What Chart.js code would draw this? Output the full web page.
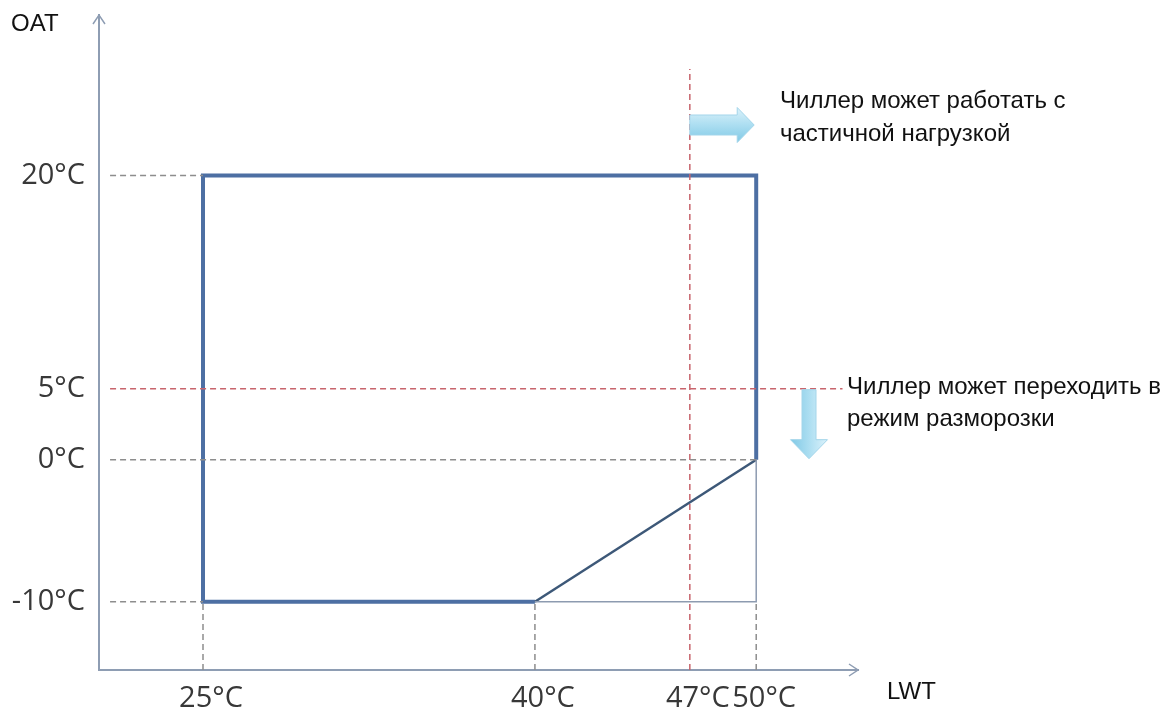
<!DOCTYPE html>
<html>
<head>
<meta charset="utf-8">
<script src="https://cdn.jsdelivr.net/npm/chart.js@4"></script>
<style>
  html, body { margin: 0; padding: 0; background: #fff; }
  #wrap { width: 1165px; height: 713px; position: relative; }
</style>
</head>
<body>
<div id="wrap"><canvas id="envelopeChart"></canvas></div>
<script>
// values
const lwtTicks = [25, 40, 47, 50];
const oatTicks = [-10, 0, 5, 20];
const boxX = [50, 50, 25, 25, 40];
const boxY = [0, 20, 20, -10, -10];
const slopeX = [40, 50];
const slopeY = [-10, 0];
const edgeX = [40, 50, 50];
const edgeY = [-10, -10, 0];
const partLoadLwt = 47;
const defrostOat = 5;

const xMin = 20.3, xMax = 54.6;
const yMin = -14.8, yMax = 31.3;
const guideStart = 20.8;

function pts(xs, ys) {
    return xs.map((x, i) => ({ x: x, y: ys[i] }));
}

const grey = '#8d8d8d';
const red = '#c8646c';
const axisColor = '#8e9db3';
const textFont = '24px "Liberation Sans", Arial, sans-serif';

function dashed(data, color) {
    return {
        data: data,
        borderColor: color,
        borderWidth: 1.5,
        borderDash: [6, 4],
        pointRadius: 0,
        showLine: true
    };
}

const datasets = [
    // grey guide lines from the axes to the corners
    dashed([{ x: guideStart, y: 20 }, { x: 25, y: 20 }], grey),
    dashed([{ x: guideStart, y: 0 }, { x: 50, y: 0 }], grey),
    dashed([{ x: guideStart, y: -10 }, { x: 25, y: -10 }], grey),
    dashed([{ x: 25, y: yMin }, { x: 25, y: -10 }], grey),
    dashed([{ x: 40, y: yMin }, { x: 40, y: -10 }], grey),
    dashed([{ x: 50, y: yMin }, { x: 50, y: -10 }], grey),
    // red limits
    dashed([{ x: guideStart, y: defrostOat }, { x: 53.9, y: defrostOat }], red),
    dashed([{ x: partLoadLwt, y: yMin }, { x: partLoadLwt, y: 27.5 }], red),
    {
        data: pts(edgeX, edgeY),
        borderColor: '#8d9bb0',
        borderWidth: 1.5,
        pointRadius: 0,
        showLine: true
    },
    {
        data: pts(slopeX, slopeY),
        borderColor: '#3d5878',
        borderWidth: 2.5,
        pointRadius: 0,
        showLine: true
    },
    {
        data: pts(boxX, boxY),
        borderColor: '#4d6fa3',
        borderWidth: 4,
        pointRadius: 0,
        showLine: true
    }
];

function blockArrow(ctx, x0, y0, len, shaft, head, headLen, dir) {
    ctx.save();
    ctx.translate(x0, y0);
    if (dir === 'down') ctx.rotate(Math.PI / 2);
    const g = ctx.createLinearGradient(0, -head / 2, 0, head / 2);
    g.addColorStop(0, '#dcf2fb');
    g.addColorStop(0.5, '#acdef1');
    g.addColorStop(1, '#80c9e6');
    ctx.beginPath();
    ctx.moveTo(0, -shaft / 2);
    ctx.lineTo(len - headLen, -shaft / 2);
    ctx.lineTo(len - headLen, -head / 2);
    ctx.lineTo(len, 0);
    ctx.lineTo(len - headLen, head / 2);
    ctx.lineTo(len - headLen, shaft / 2);
    ctx.lineTo(0, shaft / 2);
    ctx.closePath();
    ctx.fillStyle = g;
    ctx.fill();
    ctx.strokeStyle = '#a3d5ea';
    ctx.lineWidth = 1;
    ctx.stroke();
    ctx.restore();
}

const decorations = {
    id: 'decorations',
    afterDraw(chart) {
        const ctx = chart.ctx;
        const a = chart.chartArea;
        const xs = chart.scales.x;
        const ys = chart.scales.y;

        // axis arrow heads
        ctx.save();
        ctx.strokeStyle = axisColor;
        ctx.lineWidth = 1.5;
        ctx.beginPath();
        ctx.moveTo(a.left - 6, a.top + 9);
        ctx.lineTo(a.left, a.top);
        ctx.lineTo(a.left + 6, a.top + 9);
        ctx.moveTo(a.right - 9, a.bottom - 6);
        ctx.lineTo(a.right, a.bottom);
        ctx.lineTo(a.right - 9, a.bottom + 6);
        ctx.stroke();

        // axis names
        ctx.fillStyle = '#111';
        ctx.font = textFont;
        ctx.textBaseline = 'middle';
        ctx.textAlign = 'left';
        ctx.fillText('OAT', 11, 24);
        ctx.fillText('LWT', 887, 692);

        // notes
        const yRed = ys.getPixelForValue(defrostOat);
        ctx.fillText('Чиллер может работать с', 780, 101);
        ctx.fillText('частичной нагрузкой', 780, 134);
        ctx.fillText('Чиллер может переходить в', 847, yRed - 1);
        ctx.fillText('режим разморозки', 847, yRed + 31);
        ctx.restore();

        // block arrows
        const xl = xs.getPixelForValue(partLoadLwt);
        const xr = xs.getPixelForValue(50);
        blockArrow(ctx, xl, 125, xr - xl - 2, 20, 35, 17, 'right');
        blockArrow(ctx, 809, yRed + 1, 69, 14, 37, 19, 'down');
    }
};

const tickFont = { family: '"Open Sans", "Noto Sans", sans-serif', size: 29 };

new Chart(document.getElementById('envelopeChart'), {
    type: 'scatter',
    data: { datasets: datasets },
    options: {
        responsive: true,
        maintainAspectRatio: false,
        animation: false,
        layout: { padding: { top: 15, right: 307, left: 0, bottom: 0 } },
        plugins: {
            legend: { display: false },
            tooltip: { enabled: false }
        },
        scales: {
            x: {
                type: 'linear',
                min: xMin,
                max: xMax,
                grid: { display: false, drawTicks: false },
                border: { display: true, color: axisColor, width: 2 },
                afterBuildTicks: (scale) => {
                    scale.ticks = lwtTicks.map(v => ({ value: v }));
                },
                afterFit: (scale) => {
                    scale.height = 43;
                    scale.paddingLeft = 0;
                    scale.paddingRight = 0;
                },
                ticks: {
                    padding: 11,
                    labelOffset: 8,
                    maxRotation: 0,
                    autoSkip: false,
                    color: '#383838',
                    font: tickFont,
                    callback: (v) => v + '°C'
                }
            },
            y: {
                type: 'linear',
                min: yMin,
                max: yMax,
                grid: { display: false, drawTicks: false },
                border: { display: true, color: axisColor, width: 2 },
                afterBuildTicks: (scale) => {
                    scale.ticks = oatTicks.map(v => ({ value: v }));
                },
                afterFit: (scale) => {
                    scale.width = 99;
                    scale.paddingTop = 0;
                    scale.paddingBottom = 0;
                },
                ticks: {
                    padding: 14,
                    autoSkip: false,
                    color: '#383838',
                    font: tickFont,
                    callback: (v) => v + '°C'
                }
            }
        }
    },
    plugins: [decorations]
});
</script>
</body>
</html>
